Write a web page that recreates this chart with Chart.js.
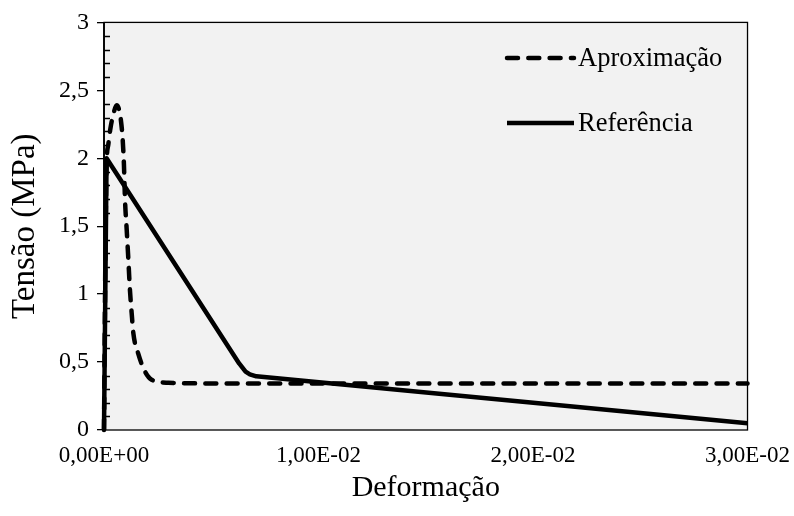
<!DOCTYPE html>
<html>
<head>
<meta charset="utf-8">
<script src="https://cdn.jsdelivr.net/npm/chart.js@4.4.1/dist/chart.umd.min.js"></script>
<style>
  html, body { margin: 0; padding: 0; background: #fff; }
  #wrap { width: 794px; height: 516px; }
</style>
</head>
<body>
<div id="wrap"><canvas id="myChart" width="794" height="516"></canvas></div>
<script>
// strain (x) and stress in MPa (y) for each curve
const strainAprox = [0, 0.00006, 0.00012, 0.0002, 0.0003, 0.00043, 0.00059, 0.0007, 0.00078, 0.00087,
  0.00093, 0.00098, 0.00106, 0.00113, 0.00121, 0.00129, 0.00137, 0.0016, 0.00191, 0.00222,
  0.003, 0.005, 0.01, 0.02, 0.03]
const stressAprox = [0, 1.2, 1.95, 2.1, 2.22, 2.32, 2.39, 2.36, 2.29, 2.14,
  1.95, 1.69, 1.47, 1.27, 1.03, 0.86, 0.71, 0.56, 0.43, 0.37,
  0.348, 0.343, 0.343, 0.343, 0.343]

const strainRef = [0, 0.00012, 0.0063, 0.0066, 0.0068, 0.0071, 0.03]
const stressRef = [0, 2.0, 0.49, 0.43, 0.41, 0.395, 0.05]

const xTicks = [0, 0.01, 0.02, 0.03]
const yTicks = [0, 0.5, 1, 1.5, 2, 2.5, 3]
const seriesNames = ['Aproximação', 'Referência']

const serif = 'Liberation Serif'

const toPoints = (xs, ys) => xs.map((x, i) => ({x: x, y: ys[i]}))

// 0.01 -> "1,00E-02"
const sciLabel = function(v) {
  let [m, e] = Number(v).toExponential(2).split('e')
  let sign = e[0] === '-' ? '-' : '+'
  let digits = Math.abs(parseInt(e, 10)).toString().padStart(2, '0')
  return m.replace('.', ',') + 'E' + sign + digits
}

// grey plot area, thin frame, minor ticks inside the y axis, and the legend
const framePlugin = {
  id: 'frame',
  beforeDraw(chart) {
    let {ctx, chartArea: a} = chart
    ctx.save()
    ctx.fillStyle = '#f2f2f2'
    ctx.fillRect(a.left, a.top, a.right - a.left, a.bottom - a.top)
    ctx.restore()
  },
  beforeDatasetsDraw(chart) {
    let {ctx, chartArea: a, scales} = chart
    ctx.save()
    ctx.strokeStyle = '#000'
    ctx.lineWidth = 1.3
    ctx.strokeRect(a.left, a.top, a.right - a.left, a.bottom - a.top)
    ctx.lineWidth = 1.8
    ctx.beginPath()
    ctx.moveTo(a.left, a.top)
    ctx.lineTo(a.left, a.bottom)
    ctx.stroke()

    // minor ticks every 0.1
    ctx.lineWidth = 1.3
    ctx.beginPath()
    for (let i = 1; i < 30; i++) {
      if (i % 5 === 0) continue
      let y = Math.round(scales.y.getPixelForValue(i / 10)) + 0.5
      ctx.moveTo(a.left, y)
      ctx.lineTo(a.left + 6, y)
    }
    ctx.stroke()
    ctx.restore()
  },
  afterDatasetsDraw(chart) {
    let {ctx} = chart
    let rows = [{y: 58}, {y: 123}]
    ctx.save()
    chart.data.datasets.forEach((ds, i) => {
      let y = rows[i].y
      ctx.strokeStyle = ds.borderColor
      ctx.lineWidth = ds.borderWidth
      ctx.lineCap = ds.borderCapStyle
      ctx.setLineDash(ds.borderDash || [])
      ctx.beginPath()
      ctx.moveTo(507, y)
      ctx.lineTo(574, y)
      ctx.stroke()
      ctx.setLineDash([])
      ctx.fillStyle = '#000'
      ctx.font = '26.5px "' + serif + '"'
      ctx.textBaseline = 'middle'
      ctx.fillText(ds.label, 578, y + 1)
    })
    ctx.restore()
  }
}

let grapharea = document.getElementById('myChart')
let myChart = new Chart(grapharea, {
  type: 'line',
  data: {
    datasets: [
      {
        label: seriesNames[0],
        data: toPoints(strainAprox, stressAprox),
        borderColor: '#000',
        borderWidth: 4.5,
        borderDash: [11, 10.3],
        borderCapStyle: 'round',
        cubicInterpolationMode: 'monotone',
        pointRadius: 0,
        fill: false,
        clip: false
      },
      {
        label: seriesNames[1],
        data: toPoints(strainRef, stressRef),
        borderColor: '#000',
        borderWidth: 4.5,
        borderCapStyle: 'butt',
        borderJoinStyle: 'round',
        tension: 0,
        pointRadius: 0,
        fill: false,
        clip: false
      }
    ]
  },
  options: {
    responsive: false,
    animation: false,
    layout: {padding: {top: 22, right: 0, left: 0, bottom: 0}},
    plugins: {
      legend: {display: false},
      tooltip: {enabled: false}
    },
    scales: {
      x: {
        type: 'linear',
        min: 0,
        max: 0.03,
        afterBuildTicks: (scale) => { scale.ticks = xTicks.map(v => ({value: v})) },
        afterFit: (scale) => { scale.height = 86 },
        grid: {display: false},
        border: {display: false},
        ticks: {
          color: '#000',
          font: {family: serif, size: 23},
          padding: 4,
          maxRotation: 0,
          callback: (v) => sciLabel(v)
        },
        title: {
          display: true,
          text: 'Deformação',
          color: '#000',
          font: {family: serif, size: 30},
          padding: {top: 0, bottom: 10}
        }
      },
      y: {
        min: 0,
        max: 3,
        afterBuildTicks: (scale) => { scale.ticks = yTicks.map(v => ({value: v})) },
        afterFit: (scale) => { scale.width = 104 },
        grid: {
          drawOnChartArea: false,
          drawTicks: true,
          tickLength: 7,
          color: '#000',
          lineWidth: 1.3
        },
        border: {display: false},
        ticks: {
          color: '#000',
          font: {family: serif, size: 24},
          padding: 8,
          callback: (v) => String(v).replace('.', ',')
        },
        title: {
          display: true,
          text: 'Tensão (MPa)',
          color: '#000',
          font: {family: serif, size: 33},
          padding: {top: 6, bottom: 0}
        }
      }
    }
  },
  plugins: [framePlugin]
})
</script>
</body>
</html>
